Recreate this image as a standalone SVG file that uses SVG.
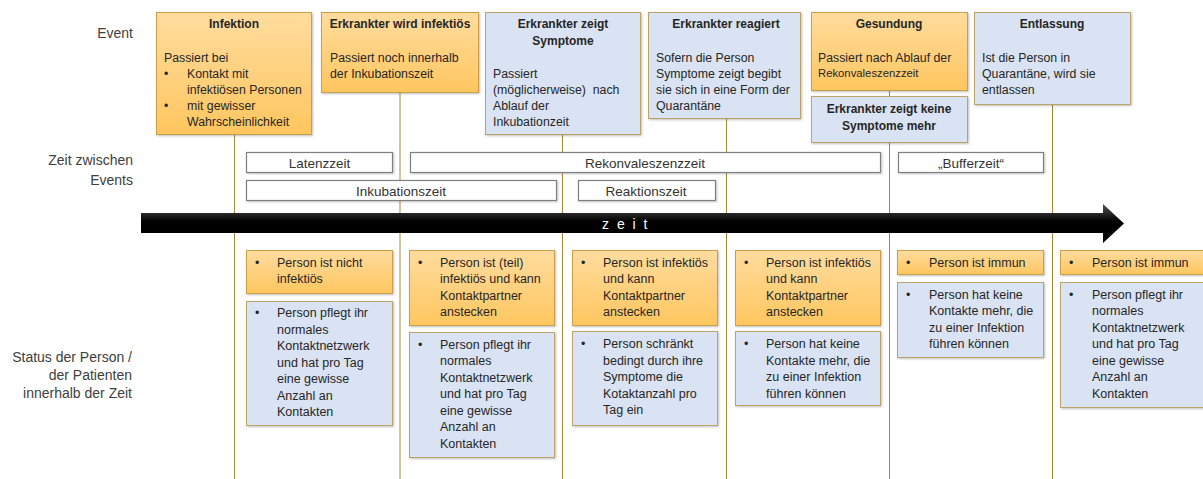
<svg xmlns="http://www.w3.org/2000/svg" width="1203" height="479" viewBox="0 0 1203 479">
<defs>
<linearGradient id="og" x1="0" y1="0" x2="0" y2="1">
<stop offset="0" stop-color="#FFDC9E"/>
<stop offset="1" stop-color="#FFC65F"/>
</linearGradient>
<linearGradient id="ag" x1="0" y1="0" x2="0" y2="1">
<stop offset="0" stop-color="#555"/>
<stop offset="0.45" stop-color="#000"/>
<stop offset="1" stop-color="#000"/>
</linearGradient>
<filter id="sh" x="-5%" y="-5%" width="110%" height="115%">
<feDropShadow dx="1" dy="1" stdDeviation="0.8" flood-color="#000" flood-opacity="0.25"/>
</filter>
</defs>
<style>
text{font-family:"Liberation Sans",Arial,sans-serif;fill:#262626}
.lbl{font-size:14px;fill:#404040;text-anchor:end}
.t{font-size:12px;font-weight:bold;text-anchor:middle}
.b{font-size:12.3px}
.s{font-size:12.5px}
.bar{font-size:13.5px;text-anchor:middle;fill:#333}
.or{fill:url(#og);stroke:#C9A04A;stroke-width:1;filter:url(#sh)}
.bl{fill:#DAE3F3;stroke:#BCA466;stroke-width:1;filter:url(#sh)}
.wb{fill:#fff;stroke:#7F7F7F;stroke-width:1.2;filter:url(#sh)}
.ln{stroke:#A8893A;stroke-width:1;fill:none}
</style>
<rect width="1203" height="479" fill="#fff"/>

<g id="row-labels">
<text class="lbl" x="133" y="38">Event</text>
<text class="lbl" x="133" y="165">Zeit zwischen</text>
<text class="lbl" x="133" y="185">Events</text>
<text class="lbl" x="132" y="362">Status der Person /</text>
<text class="lbl" x="132" y="380">der Patienten</text>
<text class="lbl" x="132" y="398">innerhalb der Zeit</text>
</g>

<g id="connectors">
<line class="ln" x1="234.5" y1="134" x2="234.5" y2="479"/>
<line class="ln" x1="400" y1="92" x2="400" y2="479"/>
<line class="ln" x1="562.5" y1="134" x2="562.5" y2="479"/>
<line class="ln" x1="726.5" y1="118" x2="726.5" y2="479"/>
<line class="ln" x1="889.5" y1="90" x2="889.5" y2="96"/>
<line class="ln" x1="889.5" y1="142" x2="889.5" y2="479"/>
<line class="ln" x1="1052.5" y1="104" x2="1052.5" y2="479"/>
</g>

<g id="ev-infektion">
<rect class="or" x="156.5" y="12.5" width="155" height="122"/>
<text class="t" x="234" y="27.5">Infektion</text>
<text class="b" x="164" y="61.5">Passiert bei</text>
<text class="b" x="164" y="77.5">•</text><text class="b" x="187" y="77.5">Kontakt mit</text>
<text class="b" x="187" y="93.5">infektiösen Personen</text>
<text class="b" x="164" y="109.5">•</text><text class="b" x="187" y="109.5">mit gewisser</text>
<text class="b" x="187" y="125.5">Wahrscheinlichkeit</text>
</g>

<g id="ev-infektioes">
<rect class="or" x="321.5" y="12.5" width="157" height="80"/>
<text class="t" x="400" y="27.5">Erkrankter wird infektiös</text>
<text class="b" x="330" y="61.5">Passiert noch innerhalb</text>
<text class="b" x="330" y="77.5">der Inkubationszeit</text>
</g>

<g id="ev-symptome">
<rect class="bl" x="485.5" y="12.5" width="155" height="122"/>
<text class="t" x="563" y="27.5">Erkrankter zeigt</text>
<text class="t" x="563" y="44.5">Symptome</text>
<text class="b" x="493" y="77.5">Passiert</text>
<text class="b" x="493" y="93.5" xml:space="preserve">(möglicherweise)  nach</text>
<text class="b" x="493" y="109.5">Ablauf der</text>
<text class="b" x="493" y="125.5">Inkubationzeit</text>
</g>

<g id="ev-reagiert">
<rect class="bl" x="648.5" y="12.5" width="152" height="106"/>
<text class="t" x="726" y="27.5">Erkrankter reagiert</text>
<text class="b" x="656" y="61.5">Sofern die Person</text>
<text class="b" x="656" y="77.5">Symptome zeigt begibt</text>
<text class="b" x="656" y="93.5">sie sich in eine Form der</text>
<text class="b" x="656" y="109.5">Quarantäne</text>
</g>

<g id="ev-gesundung">
<rect class="or" x="811.5" y="12.5" width="156" height="78"/>
<text class="t" x="889" y="27.5">Gesundung</text>
<text class="b" x="818" y="61.5">Passiert nach Ablauf der</text>
<text class="b" x="818" y="76.5" style="font-size:11.3px">Rekonvaleszenzzeit</text>
</g>

<g id="ev-keine-symptome">
<rect class="bl" x="811.5" y="96.5" width="156" height="46"/>
<text class="t" x="889" y="112.5">Erkrankter zeigt keine</text>
<text class="t" x="889" y="129.5">Symptome mehr</text>
</g>

<g id="ev-entlassung">
<rect class="bl" x="974.5" y="12.5" width="156" height="92"/>
<text class="t" x="1052" y="28">Entlassung</text>
<text class="b" x="982" y="61.5">Ist die Person in</text>
<text class="b" x="982" y="77.5">Quarantäne, wird sie</text>
<text class="b" x="982" y="93.5">entlassen</text>
</g>

<g id="tb-latenzzeit">
<rect class="wb" x="246.5" y="152.5" width="146" height="20"/>
<text class="bar" x="319.5" y="167.5">Latenzzeit</text>
</g>
<g id="tb-rekonvaleszenzzeit">
<rect class="wb" x="410.5" y="152.5" width="470" height="20"/>
<text class="bar" x="645" y="167.5">Rekonvaleszenzzeit</text>
</g>
<g id="tb-bufferzeit">
<rect class="wb" x="898.5" y="152.5" width="145" height="20"/>
<text class="bar" x="971" y="167.5">„Bufferzeit“</text>
</g>
<g id="tb-inkubationszeit">
<rect class="wb" x="246.5" y="180.5" width="310" height="20"/>
<text class="bar" x="401" y="195.5">Inkubationszeit</text>
</g>
<g id="tb-reaktionszeit">
<rect class="wb" x="578.5" y="180.5" width="137" height="20"/>
<text class="bar" x="646" y="195.5">Reaktionszeit</text>
</g>

<g id="zeit-arrow">
<path d="M141,213 H1103 V204 L1124,223.5 L1103,243 V233 H141 Z" fill="url(#ag)"/>
<text x="602" y="229" style="font-size:14px;fill:#fff;letter-spacing:2px">z e i t</text>
</g>

<g id="st1-orange">
<rect class="or" x="246.5" y="250.5" width="146" height="43"/>
<text class="s" x="255" y="266.5">•</text>
<text class="s" x="277" y="266.5">Person ist nicht</text>
<text class="s" x="277" y="283">infektiös</text>
</g>
<g id="st1-blue">
<rect class="bl" x="246.5" y="301.5" width="146" height="124"/>
<text class="s" x="255" y="317">•</text>
<text class="s" x="277" y="317">Person pflegt ihr</text>
<text class="s" x="277" y="333.5">normales</text>
<text class="s" x="277" y="350">Kontaktnetzwerk</text>
<text class="s" x="277" y="366.5">und hat pro Tag</text>
<text class="s" x="277" y="383">eine gewisse</text>
<text class="s" x="277" y="399.5">Anzahl an</text>
<text class="s" x="277" y="416">Kontakten</text>
</g>

<g id="st2-orange">
<rect class="or" x="409.5" y="250.5" width="145" height="75"/>
<text class="s" x="418" y="266.5">•</text>
<text class="s" x="440" y="266.5">Person ist (teil)</text>
<text class="s" x="440" y="283">infektiös und kann</text>
<text class="s" x="440" y="299.5">Kontaktpartner</text>
<text class="s" x="440" y="316">anstecken</text>
</g>
<g id="st2-blue">
<rect class="bl" x="409.5" y="332.5" width="145" height="125"/>
<text class="s" x="418" y="348.5">•</text>
<text class="s" x="440" y="348.5">Person pflegt ihr</text>
<text class="s" x="440" y="365">normales</text>
<text class="s" x="440" y="381.5">Kontaktnetzwerk</text>
<text class="s" x="440" y="398">und hat pro Tag</text>
<text class="s" x="440" y="414.5">eine gewisse</text>
<text class="s" x="440" y="431">Anzahl an</text>
<text class="s" x="440" y="447.5">Kontakten</text>
</g>

<g id="st3-orange">
<rect class="or" x="572.5" y="250.5" width="145" height="75"/>
<text class="s" x="581" y="266.5">•</text>
<text class="s" x="603" y="266.5">Person ist infektiös</text>
<text class="s" x="603" y="283">und kann</text>
<text class="s" x="603" y="299.5">Kontaktpartner</text>
<text class="s" x="603" y="316">anstecken</text>
</g>
<g id="st3-blue">
<rect class="bl" x="572.5" y="331.5" width="145" height="94"/>
<text class="s" x="581" y="348">•</text>
<text class="s" x="603" y="348">Person schränkt</text>
<text class="s" x="603" y="364.5">bedingt durch ihre</text>
<text class="s" x="603" y="381">Symptome die</text>
<text class="s" x="603" y="397.5">Kotaktanzahl pro</text>
<text class="s" x="603" y="414">Tag ein</text>
</g>

<g id="st4-orange">
<rect class="or" x="735.5" y="250.5" width="145" height="75"/>
<text class="s" x="744" y="266.5">•</text>
<text class="s" x="766" y="266.5">Person ist infektiös</text>
<text class="s" x="766" y="283">und kann</text>
<text class="s" x="766" y="299.5">Kontaktpartner</text>
<text class="s" x="766" y="316">anstecken</text>
</g>
<g id="st4-blue">
<rect class="bl" x="735.5" y="331.5" width="145" height="74"/>
<text class="s" x="744" y="348">•</text>
<text class="s" x="766" y="348">Person hat keine</text>
<text class="s" x="766" y="364.5">Kontakte mehr, die</text>
<text class="s" x="766" y="381">zu einer Infektion</text>
<text class="s" x="766" y="397.5">führen können</text>
</g>

<g id="st5-orange">
<rect class="or" x="897.5" y="250.5" width="146" height="24"/>
<text class="s" x="906" y="266.5">•</text>
<text class="s" x="929" y="266.5">Person ist immun</text>
</g>
<g id="st5-blue">
<rect class="bl" x="897.5" y="282.5" width="146" height="75"/>
<text class="s" x="906" y="298.5">•</text>
<text class="s" x="929" y="298.5">Person hat keine</text>
<text class="s" x="929" y="315">Kontakte mehr, die</text>
<text class="s" x="929" y="331.5">zu einer Infektion</text>
<text class="s" x="929" y="348">führen können</text>
</g>

<g id="st6-orange">
<rect class="or" x="1060.5" y="250.5" width="146" height="24"/>
<text class="s" x="1069" y="266.5">•</text>
<text class="s" x="1092" y="266.5">Person ist immun</text>
</g>
<g id="st6-blue">
<rect class="bl" x="1060.5" y="282.5" width="146" height="125"/>
<text class="s" x="1069" y="298.5">•</text>
<text class="s" x="1092" y="298.5">Person pflegt ihr</text>
<text class="s" x="1092" y="315">normales</text>
<text class="s" x="1092" y="331.5">Kontaktnetzwerk</text>
<text class="s" x="1092" y="348">und hat pro Tag</text>
<text class="s" x="1092" y="364.5">eine gewisse</text>
<text class="s" x="1092" y="381">Anzahl an</text>
<text class="s" x="1092" y="397.5">Kontakten</text>
</g>
</svg>
